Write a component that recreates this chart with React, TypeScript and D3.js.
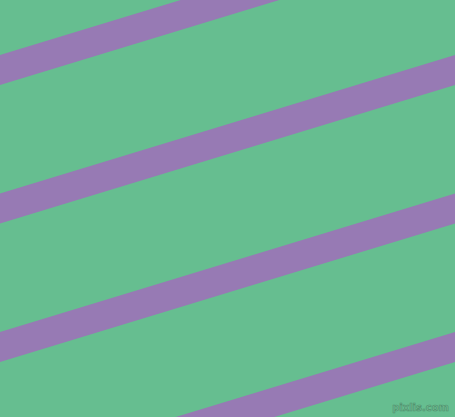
import { useEffect, useRef } from 'react';
import * as d3 from 'd3';

// stripe index -> band position (top edge where it meets the left side)
const stripeIndex = [-1, 0, 1, 2, 3];
const bandEdges = [0, 1]; // top and bottom edge of a stripe
const watermark = 'pixlis.com';

const W = 455;
const H = 417;

export default function App() {
  const ref = useRef<SVGSVGElement>(null);

  useEffect(() => {
    if (!ref.current) return;
    const svg = d3.select(ref.current);
    svg.selectAll('*').remove();

    // stripe i's top edge at the left side of the picture
    const leftY = d3.scaleLinear().domain([0, 1]).range([55, 193.5]);
    // vertical thickness of a stripe
    const thick = d3.scaleLinear().domain([0, 1]).range([0, 30]);
    // across the width the stripe rises by one full period
    const x = d3.scaleLinear().domain([0, 1]).range([0, W]);

    svg.append('rect')
      .attr('width', W)
      .attr('height', H)
      .attr('fill', '#66be90');

    const line = d3.line<[number, number]>()
      .x(d => d[0])
      .y(d => d[1]);

    stripeIndex.forEach(i => {
      const top = bandEdges.map(t => [x(t), leftY(i - t)] as [number, number]);
      const bottom = bandEdges.slice().reverse().map(t => [x(t), leftY(i - t) + thick(1)] as [number, number]);
      svg.append('path')
        .attr('d', line([...top, ...bottom]) + 'Z')
        .attr('fill', '#977ab4');
    });

    svg.append('text')
      .attr('x', 449)
      .attr('y', 411)
      .attr('text-anchor', 'end')
      .attr('font-family', 'DejaVu Sans, sans-serif')
      .attr('font-size', 10)
      .attr('font-weight', 'bold')
      .attr('fill', '#6fbb92')
      .attr('stroke', '#4f8f6c')
      .attr('stroke-width', 0.6)
      .text(watermark);
  }, []);

  return (
    <svg ref={ref} width={W} height={H} style={{ display: 'block', position: 'absolute', left: 0, top: 0 }} />
  );
}
